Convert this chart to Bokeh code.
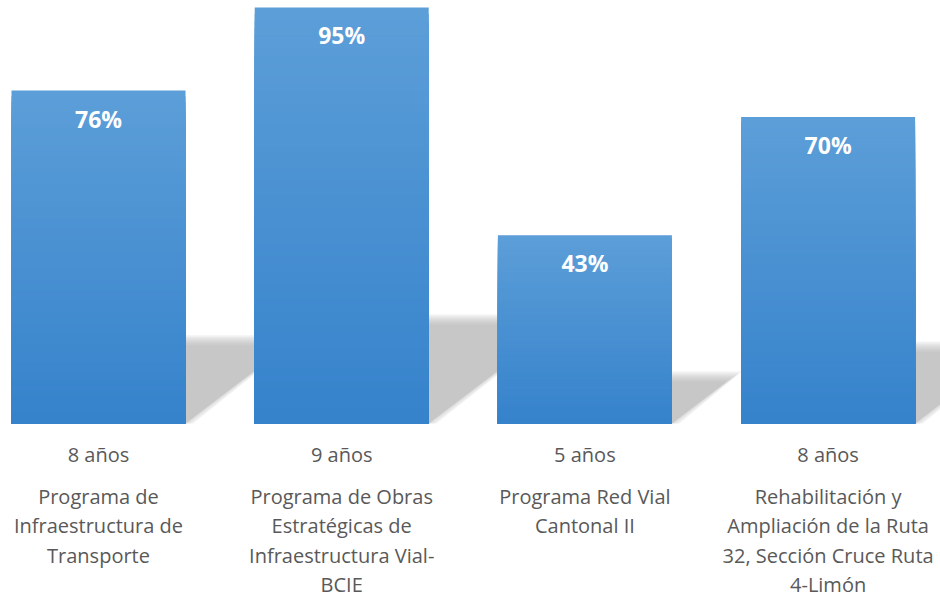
import numpy as np
from bokeh.plotting import figure
from bokeh.models import Range1d, ColumnDataSource
from bokeh.core.properties import value
from bokeh.embed import file_html
from bokeh.resources import INLINE

# ---- data ----
programs = [
    "Programa de\nInfraestructura de\nTransporte",
    "Programa de Obras\nEstratégicas de\nInfraestructura Vial-\nBCIE",
    "Programa Red Vial\nCantonal II",
    "Rehabilitación y\nAmpliación de la Ruta\n32, Sección Cruce Ruta\n4-Limón",
]
durations = ["8 años", "9 años", "5 años", "8 años"]
percent = [76, 95, 43, 70]

# ---- layout constants ----
W, H = 940, 598
PX_X = 243.2      # px per category step
X0 = 98           # px centre of first bar
PX_Y = 4.38       # px per percent
BASE = 423        # px baseline
BAR_W = 174 / PX_X
HALF = BAR_W / 2

p = figure(width=W, height=H,
           x_range=Range1d(-X0 / PX_X, (W - X0) / PX_X),
           y_range=Range1d(-(H - BASE) / PX_Y, BASE / PX_Y),
           output_backend="svg", toolbar_location=None,
           x_axis_type=None, y_axis_type=None, min_border=0)
p.grid.visible = False
p.outline_line_color = None
p.background_fill_color = "white"
p.border_fill_color = "white"

xs_pos = list(range(len(percent)))

# ---- perspective shadows (soft, layered) ----
sh_xs, sh_ys = [], []
for c, v in zip(xs_pos, percent):
    top_h = 0.25 * v
    dx = 0.33 * v * PX_Y / PX_X
    for e in [-5, -3, -1, 1, 3, 5]:
        t = top_h + e / PX_Y
        s = 1.5 * e / PX_X
        sh_xs.append([c - HALF, c + HALF + max(s, 0), c + HALF + dx + s, c - HALF + dx])
        sh_ys.append([0, 0, t, t])
p.patches(sh_xs, sh_ys, fill_color="#b0b0b0", fill_alpha=0.175, line_color=None)

# ---- gradient bars ----
top_rgb = np.array([92, 158, 216])
bot_rgb = np.array([53, 130, 203])
N = 60
bx, btop, bcol = [], [], []
for j in range(N):
    frac = 1 - j / N
    rgb = bot_rgb + (top_rgb - bot_rgb) * frac
    col = "#%02x%02x%02x" % tuple(int(round(u)) for u in rgb)
    for c, v in zip(xs_pos, percent):
        bx.append(c)
        btop.append(v * frac)
        bcol.append(col)
p.vbar(x="x", top="top", bottom=0, width=BAR_W, fill_color="color", line_color=None,
       source=ColumnDataSource(dict(x=bx, top=btop, color=bcol)))

# ---- value labels ----
p.text(x=xs_pos, y=percent, text=[f"{v}%" for v in percent],
       text_color="white", text_font=value("Open Sans"), text_font_style="bold",
       text_font_size="23px", text_align="center", text_baseline="middle", y_offset=28)

# ---- category labels ----
p.text(x=xs_pos, y=[0] * 4, text=durations, text_color="#595959",
       text_font=value("Open Sans"), text_font_size="20px",
       text_align="center", text_baseline="middle", y_offset=31)

lx, ly, lt, lo = [], [], [], []
for c, name in zip(xs_pos, programs):
    for k, line in enumerate(name.split("\n")):
        lx.append(c)
        ly.append(0)
        lt.append(line)
        lo.append(73 + 29.3 * k)
p.text(x="x", y="y", text="t", y_offset="o", text_color="#595959",
       text_font=value("Open Sans"), text_font_size="20px",
       text_align="center", text_baseline="middle",
       source=ColumnDataSource(dict(x=lx, y=ly, t=lt, o=lo)))

open("out.html", "w").write(file_html(p, INLINE))
